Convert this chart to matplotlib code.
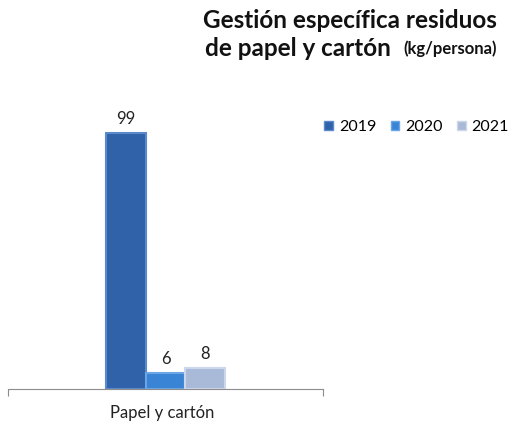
import matplotlib.pyplot as plt
from matplotlib.patches import Patch

plt.rcParams['font.family'] = ['Lato', 'DejaVu Sans']

category = "Papel y cartón"
years = ["2019", "2020", "2021"]
values = [99, 6, 8]
colors = ["#2F62A8", "#3A84D6", "#A9BAD9"]
edges = ["#5A8ACB", "#6AA5E6", "#CCD7EC"]

fig = plt.figure(figsize=(5.08, 4.25), dpi=100)
ax = fig.add_axes([8 / 508, 36 / 425, 315 / 508, 289 / 425])

width = 0.125
offsets = [-width, 0, width]
for off, v, c, e, yr in zip(offsets, values, colors, edges, years):
    ax.bar(off, v, width=width, color=c, edgecolor=e, linewidth=1.5, label=yr)
    ax.text(off, v + 2.5, str(v), ha='center', va='bottom', fontsize=12, color='#222222')

ax.set_xlim(-0.5, 0.5)
ax.set_ylim(0, 289 / 2.586)
for s in ['top', 'right', 'left']:
    ax.spines[s].set_visible(False)
ax.spines['bottom'].set_color('#8c8c8c')
ax.set_yticks([])
ax.set_xticks([-0.5, 0.5])
ax.set_xticklabels(['', ''])
ax.tick_params(axis='x', length=5, color='#8c8c8c')
ax.text(0.49, -0.055, category, transform=ax.transAxes, ha='center', va='top',
        fontsize=12, color='#222222')

handles = [Patch(facecolor=c, edgecolor=e) for c, e in zip(colors, edges)]
fig.legend(handles, years, loc='center left', bbox_to_anchor=(318 / 508, 1 - 127 / 425),
           ncol=3, frameon=False, fontsize=11.5, handlelength=0.55, handleheight=0.55,
           handletextpad=0.35, columnspacing=0.9, borderaxespad=0)

fig.text(497 / 508, 1 - 20 / 425, "Gestión específica residuos", ha='right', va='center',
         fontsize=17.5, fontweight='bold', color='#111111')
fig.text(205 / 508, 1 - 48 / 425, "de papel y cartón", ha='left', va='center',
         fontsize=17.5, fontweight='bold', color='#111111')
fig.text(497 / 508, 1 - 49 / 425, "(kg/persona)", ha='right', va='center',
         fontsize=12, fontweight='bold', color='#111111')

fig.savefig('out.png', dpi=100)
